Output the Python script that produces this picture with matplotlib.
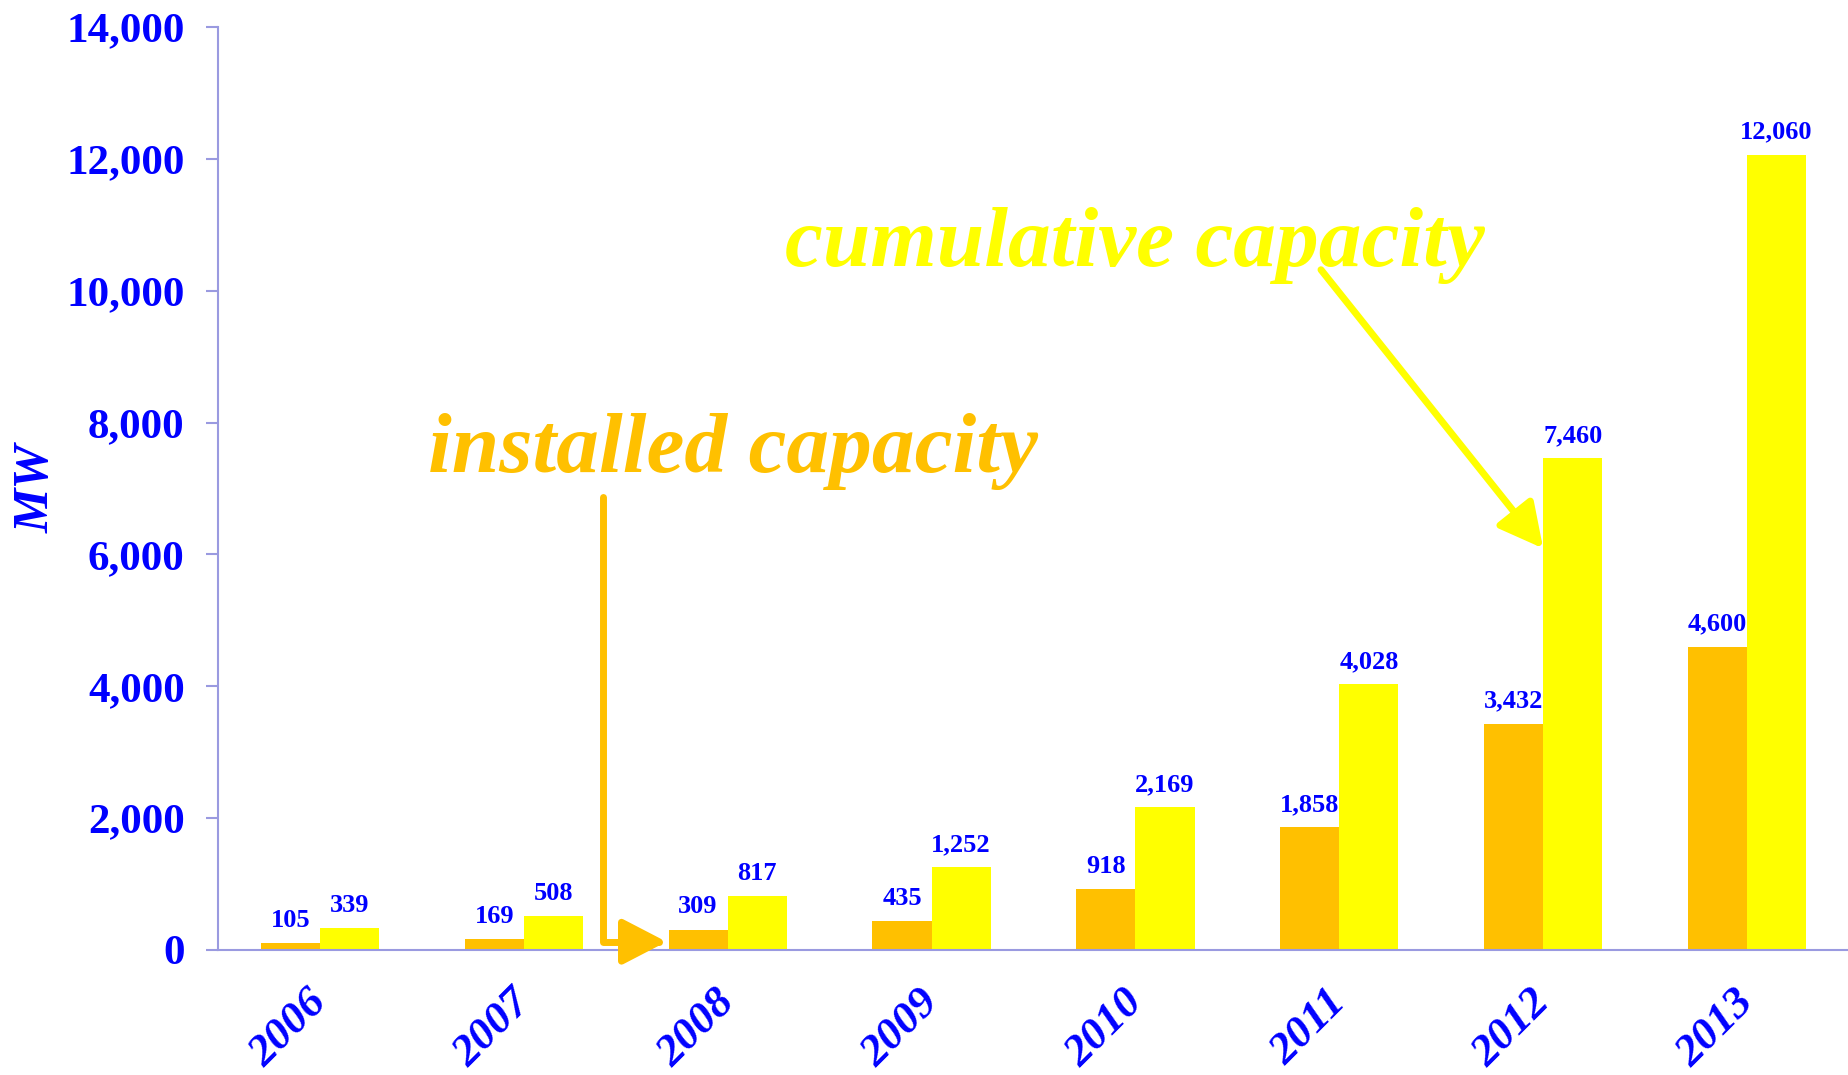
import numpy as np
import matplotlib.pyplot as plt
from matplotlib.transforms import ScaledTranslation

years = ['2006', '2007', '2008', '2009', '2010', '2011', '2012', '2013']
installed = [105, 169, 309, 435, 918, 1858, 3432, 4600]
cumulative = [339, 508, 817, 1252, 2169, 4028, 7460, 12060]

blue = '#0000ff'
orange = '#ffc000'
yellow = '#ffff00'
axis_col = '#9a9ae0'

plt.rcParams['font.family'] = ['Liberation Serif', 'DejaVu Serif']
plt.rcParams['font.weight'] = 'bold'

fig = plt.figure(figsize=(18.49, 10.75), dpi=100)
ax = fig.add_axes([0.1179, 0.1163, 0.8821, 0.8586])

x = np.arange(len(years))
w = 0.29
b1 = ax.bar(x - w/2, installed, w, color=orange, zorder=2)
b2 = ax.bar(x + w/2, cumulative, w, color=yellow, zorder=2)

# value labels above each bar
for bars, vals in ((b1, installed), (b2, cumulative)):
    for rect, v in zip(bars, vals):
        ax.annotate(f'{v:,}', (rect.get_x() + rect.get_width()/2, v),
                    xytext=(0, 8), textcoords='offset points',
                    ha='center', va='bottom', color=blue,
                    fontsize=19, fontweight='bold')

ax.set_xlim(-0.5, 7.5)
ax.set_ylim(0, 14000)
ax.set_yticks(np.arange(0, 14001, 2000))
ax.set_yticklabels([f'{v:,}' for v in range(0, 14001, 2000)])

for side in ('top', 'right'):
    ax.spines[side].set_visible(False)
for side in ('left', 'bottom'):
    ax.spines[side].set_color(axis_col)
    ax.spines[side].set_linewidth(1.5)

ax.tick_params(axis='y', colors=axis_col, labelcolor=blue, labelsize=31,
               length=9, width=1.5, pad=15)
ax.tick_params(axis='x', length=0, labelcolor=blue, labelsize=32.5, pad=23)

ax.set_xticks(x)
ax.set_xticklabels(years, rotation=45, ha='right', va='top',
                   rotation_mode='anchor', style='italic')
shift = ScaledTranslation(-9.5/72, 0, fig.dpi_scale_trans)
for lab in ax.get_xticklabels():
    lab.set_transform(lab.get_transform() + shift)

ax.set_ylabel('MW', color=blue, fontsize=36, style='italic', fontweight='bold')
ax.yaxis.set_label_coords(-0.097, 0.5)

# callouts
ax.text(0.53, 7250, 'installed capacity', color=orange, fontsize=61.5,
        style='italic', fontweight='bold', ha='left', va='baseline')
ax.text(2.28, 10379, 'cumulative capacity', color=yellow, fontsize=61.5,
        style='italic', fontweight='bold', ha='left', va='baseline')

ax.annotate('', xy=(1.70, 125), xytext=(1.39, 6864),
            arrowprops=dict(arrowstyle='-|>,head_length=27,head_width=14',
                            connectionstyle='angle,angleA=90,angleB=0,rad=0',
                            color=orange, lw=5, mutation_scale=1,
                            shrinkA=0, shrinkB=0), zorder=3)
ax.annotate('', xy=(6.0, 6091), xytext=(4.91, 10318),
            arrowprops=dict(arrowstyle='-|>,head_length=27,head_width=14',
                            color=yellow, lw=5, mutation_scale=1,
                            shrinkA=0, shrinkB=0), zorder=3)

fig.savefig('out.png', dpi=100)
